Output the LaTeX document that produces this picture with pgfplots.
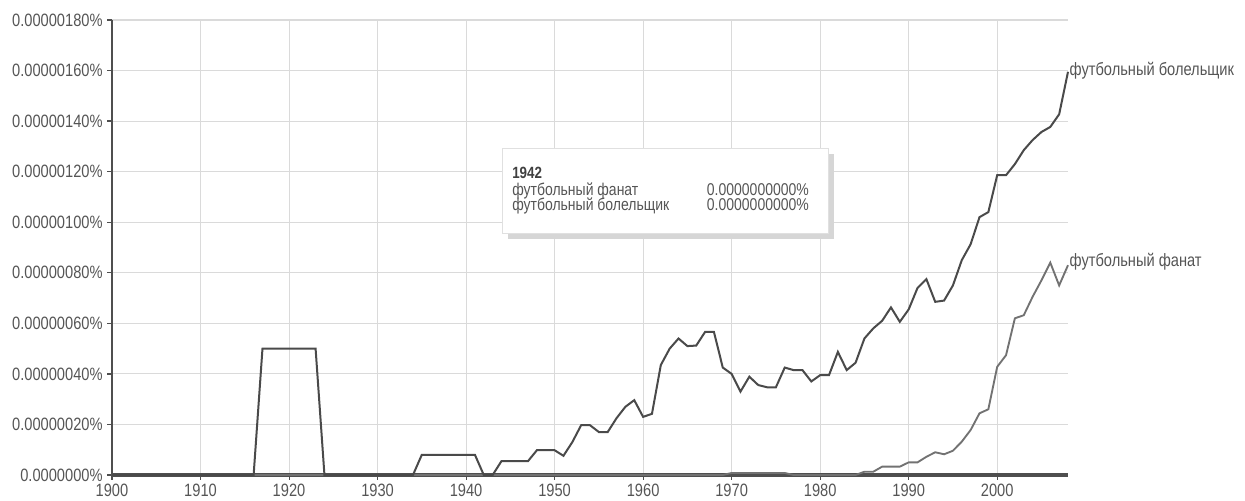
\documentclass[border=0pt]{standalone}
\usepackage{pgfplots}
\pgfplotsset{compat=1.18}
\usepackage{fontspec}
\setmainfont{Liberation Sans}[FakeStretch=0.82]
\definecolor{lineA}{HTML}{4A4A4A}
\definecolor{lineB}{HTML}{727272}
\definecolor{gridc}{HTML}{DADADA}
\definecolor{axc}{HTML}{4F4F4F}
\definecolor{txt}{HTML}{555555}
\begin{document}
\begin{tikzpicture}
\useasboundingbox (-84pt,-18.75pt) rectangle (849.75pt,356.25pt);
\begin{axis}[
  scale only axis,
  width=717pt, height=341.25pt,
  xmin=1900, xmax=2008, ymin=0, ymax=180,
  axis x line=bottom, axis y line=left,
  axis line style={-},
  x axis line style={draw=axc, line width=2.5pt},
  y axis line style={draw=axc, line width=1.3pt},
  xtick={1900,1910,...,2000},
  xticklabels={1900,1910,1920,1930,1940,1950,1960,1970,1980,1990,2000},
  ytick={0,20,...,180},
  yticklabels={0.0000000\%,0.00000020\%,0.00000040\%,0.00000060\%,0.00000080\%,0.00000100\%,0.00000120\%,0.00000140\%,0.00000160\%,0.00000180\%},
  tick align=outside,
  major tick length=3.5pt,
  x tick style={draw=axc, line width=0.8pt},
  y tick style={draw=axc, line width=1pt},
  ticklabel style={font=\fontsize{13.4}{14}\selectfont, text=txt},
  xticklabel style={yshift=0pt},
  grid=major,
  major grid style={draw=gridc, line width=0.8pt},
  clip=false,
]
\addplot[lineB, line width=1.4pt] coordinates {
(1900,0)(1969,0)(1970,0.8)(1976,0.8)(1977,0)(1984,0)(1985,1.3)(1986,1.3)(1987,3.3)(1988,3.3)(1989,3.3)(1990,5)(1991,5)(1992,7.2)(1993,9)(1994,8.2)(1995,9.6)(1996,13.2)(1997,17.8)(1998,24.4)(1999,26)(2000,42.8)(2001,47.4)(2002,62)(2003,63.2)(2004,70.5)(2005,77)(2006,84)(2007,75)(2008,83)
};
\addplot[lineA, line width=1.5pt] coordinates {
(1900,0)(1916,0)(1917,50)(1918,50)(1919,50)(1920,50)(1921,50)(1922,50)(1923,50)(1924,0)(1934,0)(1935,8)(1936,8)(1937,8)(1938,8)(1939,8)(1940,8)(1941,8)(1942,0)(1943,0)(1944,5.5)(1945,5.5)(1946,5.5)(1947,5.5)(1948,9.8)(1949,9.8)(1950,9.8)(1951,7.6)(1952,13)(1953,19.7)(1954,19.7)(1955,17)(1956,17)(1957,22.5)(1958,27)(1959,29.6)(1960,23)(1961,24.2)(1962,43.5)(1963,50)(1964,54)(1965,51)(1966,51.2)(1967,56.6)(1968,56.6)(1969,42.5)(1970,40)(1971,33)(1972,38.9)(1973,35.6)(1974,34.7)(1975,34.7)(1976,42.5)(1977,41.5)(1978,41.5)(1979,37)(1980,39.5)(1981,39.5)(1982,48.7)(1983,41.5)(1984,44.4)(1985,54)(1986,58)(1987,61)(1988,66.3)(1989,60.6)(1990,65.5)(1991,74)(1992,77.5)(1993,68.5)(1994,69)(1995,75)(1996,85)(1997,91.3)(1998,102)(1999,104)(2000,118.6)(2001,118.6)(2002,123)(2003,128.5)(2004,132.5)(2005,135.7)(2006,137.7)(2007,142.7)(2008,159.5)
};
\node[anchor=west, inner sep=1pt, text=txt, font=\fontsize{13.4}{14}\selectfont] at (axis cs:2008,160) {футбольный болельщик};
\node[anchor=west, inner sep=1pt, text=txt, font=\fontsize{13.4}{14}\selectfont] at (axis cs:2008,84.5) {футбольный фанат};
\end{axis}
% tooltip
\fill[black!16] (297pt,240.75pt) rectangle (541.5pt,177pt);
\filldraw[fill=white, draw=black!12] (292.5pt,245.25pt) rectangle (537pt,181.5pt);
\node[anchor=north west, inner sep=0pt, text=txt, font=\fontsize{12.8}{10.5}\selectfont] at (300pt,238.5pt) {%
\begin{tabular}{@{}p{146pt}@{}l@{}}
{\fontsize{12.2}{10.5}\selectfont\bfseries\color{black!75}1942} & \\[6.75pt]
футбольный фанат & 0.0000000000\% \\[-1.5pt]
футбольный болельщик & 0.0000000000\%
\end{tabular}};
\end{tikzpicture}
\end{document}
